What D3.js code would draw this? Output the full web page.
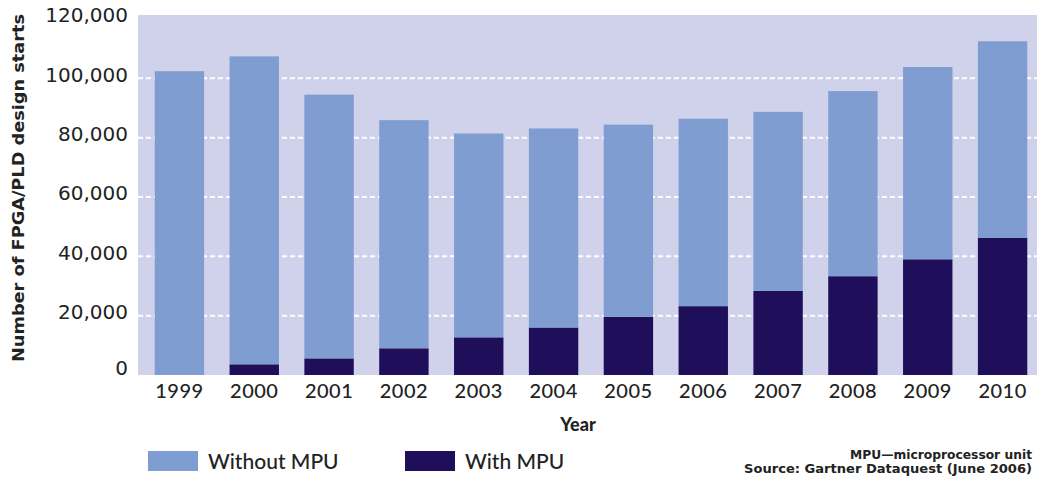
<!DOCTYPE html>
<html>
<head>
<meta charset="utf-8">
<script src="https://cdn.jsdelivr.net/npm/d3@7"></script>
<style>
  body { margin: 0; background: #fff; }
  text { font-family: 'Lato', 'DejaVu Sans', sans-serif; }
</style>
</head>
<body>
<div class="canvas"></div>
<script>
// data
const years = ['1999', '2000', '2001', '2002', '2003', '2004', '2005', '2006', '2007', '2008', '2009', '2010'];
const withMPU = [0, 3600, 5600, 9000, 12700, 16000, 19600, 23200, 28400, 33300, 39000, 46200];
const withoutMPU = [102400, 103800, 88900, 76900, 68700, 67100, 64800, 63200, 60300, 62400, 64800, 66300];
const yTicks = [0, 20000, 40000, 60000, 80000, 100000, 120000];
const seriesNames = ['Without MPU', 'With MPU'];

const colors = { bg: '#d0d1ea', light: '#7f9dd0', dark: '#1f0e5a', text: '#222' };

const svg = d3.select('.canvas').append('svg')
    .attr('width', 1041)
    .attr('height', 477);

const x = d3.scaleBand()
    .domain(years)
    .range([142, 1040])
    .paddingInner(0.34)
    .paddingOuter(0.17);

const y = d3.scaleLinear()
    .domain([0, 120000])
    .range([375, 19]);

// plot background
svg.append('rect')
    .attr('x', 138).attr('y', 15)
    .attr('width', 899).attr('height', 360)
    .attr('fill', colors.bg);

// dotted white gridlines
svg.selectAll('.grid')
    .data(yTicks.filter(d => d > 0 && d < 120000))
    .join('line')
    .attr('x1', 138).attr('x2', 1037)
    .attr('y1', d => y(d)).attr('y2', d => y(d))
    .attr('stroke', '#fff')
    .attr('stroke-width', 2)
    .attr('stroke-dasharray', '5,3');

// stacked bars
const rows = years.map((yr, i) => ({ year: yr, with: withMPU[i], without: withoutMPU[i] }));
const stacked = d3.stack().keys(['with', 'without'])(rows);
const fill = { with: colors.dark, without: colors.light };

svg.selectAll('.layer')
    .data(stacked)
    .join('g')
    .attr('fill', d => fill[d.key])
    .selectAll('rect')
    .data(d => d)
    .join('rect')
    .attr('x', d => x(d.data.year))
    .attr('width', x.bandwidth())
    .attr('y', d => y(d[1]))
    .attr('height', d => y(d[0]) - y(d[1]));

// y axis labels
const yAxis = svg.append('g')
    .attr('transform', 'translate(128,0)')
    .call(d3.axisLeft(y).tickValues(yTicks).tickSize(0).tickPadding(0).tickFormat(d3.format(',')));
yAxis.select('.domain').remove();
yAxis.selectAll('text')
    .attr('font-size', 20)
    .attr('fill', colors.text)
    .style('font-family', "'DejaVu Sans', sans-serif");
// nudge labels to match the picture
yAxis.selectAll('.tick').attr('transform', d => `translate(0,${y(d) - (d === 0 ? 6 : 3)})`);

// x axis labels
const xAxis = svg.append('g')
    .attr('transform', 'translate(0,384)')
    .call(d3.axisBottom(x).tickSize(0).tickPadding(0));
xAxis.select('.domain').remove();
xAxis.selectAll('text')
    .attr('font-size', 20)
    .attr('font-weight', 500)
    .attr('fill', colors.text)
    .attr('letter-spacing', 0.5)
    .style('font-family', "'Lato', sans-serif");

// axis titles
svg.append('text')
    .attr('x', 578).attr('y', 431)
    .attr('text-anchor', 'middle')
    .attr('font-size', 18)
    .attr('font-weight', 900)
    .attr('fill', colors.text)
    .text('Year');

svg.append('text')
    .attr('transform', 'translate(24,188) rotate(-90)')
    .attr('text-anchor', 'middle')
    .attr('font-size', 16)
    .attr('font-weight', 700)
    .attr('fill', colors.text)
    .attr('textLength', 348)
    .attr('lengthAdjust', 'spacingAndGlyphs')
    .style('font-family', "'DejaVu Sans', sans-serif")
    .text('Number of FPGA/PLD design starts');

// legend
const legend = svg.selectAll('.legend')
    .data(seriesNames)
    .join('g')
    .attr('transform', (d, i) => `translate(${148 + i * 257},451)`);
legend.append('rect')
    .attr('width', 50).attr('height', 20)
    .attr('fill', (d, i) => i === 0 ? colors.light : colors.dark);
legend.append('text')
    .attr('x', 60).attr('y', 18)
    .attr('font-size', 21)
    .attr('font-weight', 500)
    .attr('fill', colors.text)
    .text(d => d);

// notes
svg.append('text')
    .attr('x', 1032).attr('y', 459)
    .attr('text-anchor', 'end')
    .attr('font-size', 12)
    .attr('font-weight', 700)
    .attr('fill', colors.text)
    .attr('textLength', 182)
    .attr('lengthAdjust', 'spacingAndGlyphs')
    .style('font-family', "'DejaVu Sans', sans-serif")
    .text('MPU—microprocessor unit');
svg.append('text')
    .attr('x', 1032).attr('y', 473)
    .attr('text-anchor', 'end')
    .attr('font-size', 12)
    .attr('font-weight', 700)
    .attr('fill', colors.text)
    .attr('textLength', 288)
    .attr('lengthAdjust', 'spacingAndGlyphs')
    .style('font-family', "'DejaVu Sans', sans-serif")
    .text('Source: Gartner Dataquest (June 2006)');
</script>
</body>
</html>
